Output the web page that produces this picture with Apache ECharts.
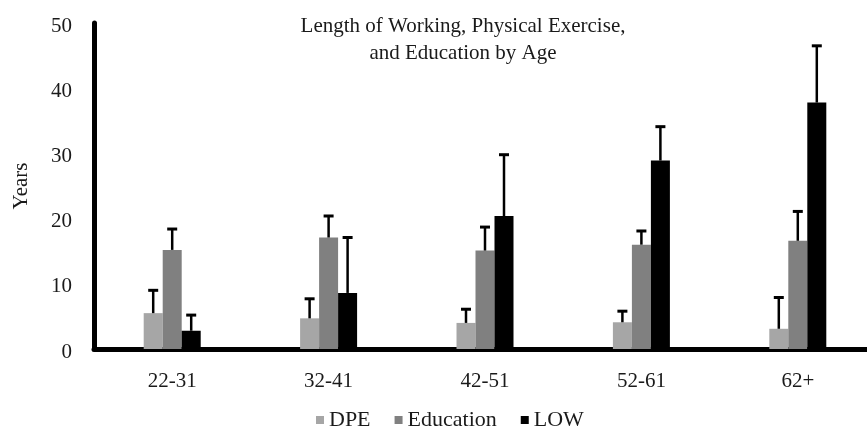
<!DOCTYPE html>
<html>
<head>
<meta charset="utf-8">
<script src="https://cdn.jsdelivr.net/npm/echarts@6/dist/echarts.min.js"></script>
<style>
html,body{margin:0;padding:0;background:#fff;}
#chart{width:867px;height:426px;}
</style>
</head>
<body>
<div id="chart"></div>
<script>
var categories = ['22-31', '32-41', '42-51', '52-61', '62+'];
var seriesNames = ['DPE', 'Education', 'LOW'];
var dpeMean = [5.5, 4.7, 4.0, 4.1, 3.1];
var dpeErr = [3.5, 3.0, 2.1, 1.7, 4.8];
var eduMean = [15.2, 17.1, 15.1, 16.0, 16.6];
var eduErr = [3.2, 3.3, 3.6, 2.1, 4.5];
var lowMean = [2.8, 8.6, 20.4, 28.9, 37.8];
var lowErr = [2.4, 8.5, 9.4, 5.2, 8.7];
var yTicks = [0, 10, 20, 30, 40, 50];
var colors = ['#a6a6a6', '#808080', '#000000'];

var FONT = '"Liberation Serif", "Times New Roman", serif';
var TXT = '#1a1a1a';
var BAR_W = 19;

var means = [dpeMean, eduMean, lowMean];
var errs = [dpeErr, eduErr, lowErr];

var series = [];
means.forEach(function (m, i) {
  series.push({
    name: seriesNames[i],
    type: 'bar',
    data: m,
    barWidth: BAR_W,
    barGap: '0%',
    itemStyle: { color: colors[i] },
    z: 2
  });
});
means.forEach(function (m, i) {
  var d = m.map(function (v, k) { return [k, v, v + errs[i][k]]; });
  series.push({
    type: 'custom',
    name: seriesNames[i] + ' err',
    data: d,
    z: 3,
    silent: true,
    renderItem: function (params, api) {
      var p0 = api.coord([api.value(0), api.value(1)]);
      var p1 = api.coord([api.value(0), api.value(2)]);
      var x = p0[0] + (i - 1) * BAR_W;
      return {
        type: 'group',
        children: [
          { type: 'line', shape: { x1: x, y1: p0[1], x2: x, y2: p1[1] }, style: { stroke: '#000', lineWidth: 2.5 } },
          { type: 'line', shape: { x1: x - 5, y1: p1[1], x2: x + 5, y2: p1[1] }, style: { stroke: '#000', lineWidth: 3 } }
        ]
      };
    }
  });
});

var chart = echarts.init(document.getElementById('chart'));
chart.setOption({
  animation: false,
  backgroundColor: '#fff',
  title: {
    text: 'Length of Working, Physical Exercise,\nand Education by Age',
    left: 458,
    top: 8,
    textAlign: 'center',
    textStyle: { fontFamily: FONT, fontSize: 21, fontWeight: 'normal', color: TXT, lineHeight: 27 }
  },
  legend: {
    data: seriesNames,
    left: 311,
    top: 404,
    icon: 'rect',
    itemWidth: 8,
    itemHeight: 8,
    itemGap: 24,
    textStyle: { fontFamily: FONT, fontSize: 22, color: TXT }
  },
  grid: { left: 94, top: 23, width: 782, height: 326, outerBoundsMode: 'none', containLabel: false },
  xAxis: {
    type: 'category',
    data: categories,
    axisLine: { lineStyle: { color: '#000', width: 5 } },
    axisTick: { show: false },
    axisLabel: { fontFamily: FONT, fontSize: 21, color: TXT, margin: 22 }
  },
  yAxis: {
    type: 'value',
    min: yTicks[0],
    max: yTicks[yTicks.length - 1],
    interval: 10,
    name: 'Years',
    nameLocation: 'middle',
    nameRotate: 90,
    nameGap: 62,
    nameTextStyle: { fontFamily: FONT, fontSize: 21, color: TXT },
    axisLine: { show: true, lineStyle: { color: '#000', width: 5 } },
    axisTick: { show: false },
    splitLine: { show: false },
    axisLabel: {
      margin: 22,
      formatter: '{a|{value}}',
      rich: { a: { fontFamily: FONT, fontSize: 21, color: TXT, padding: [6, 0, 0, 0] } }
    }
  },
  series: series
});
</script>
</body>
</html>
